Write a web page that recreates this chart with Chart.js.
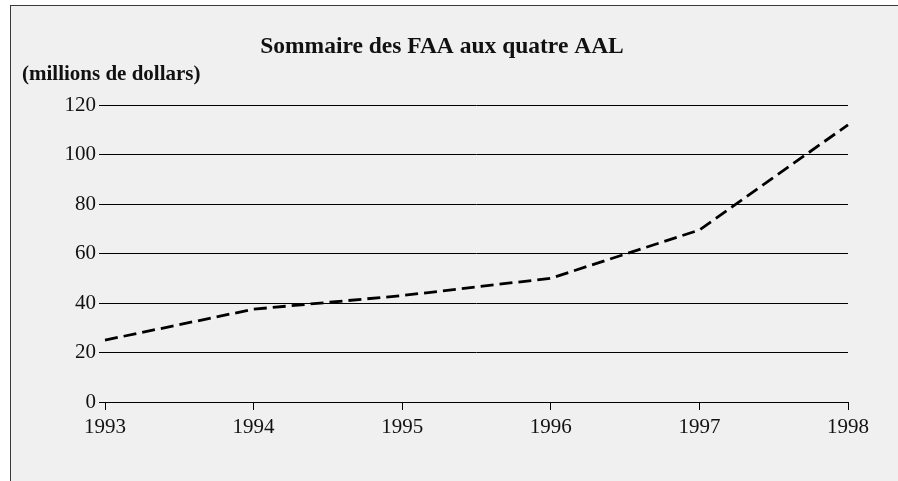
<!DOCTYPE html>
<html>
<head>
<meta charset="utf-8">
<script src="https://cdn.jsdelivr.net/npm/chart.js@4"></script>
<style>
  body { margin: 0; background: #ffffff; }
  #frame {
    position: absolute; left: 10px; top: 5px;
    width: 887px; height: 475px;
    background: #f0f0f0;
    border-left: 1px solid #3a3a3a;
    border-top: 1px solid #3a3a3a;
  }
  #chartBox { width: 887px; height: 475px; }
</style>
</head>
<body>
<div id="frame"><div id="chartBox"><canvas id="lineChart"></canvas></div></div>
<script>
const YEARS = ["1993", "1994", "1995", "1996", "1997", "1998"]
const FAA_VALUES = [25, 37.5, 43, 50, 69.5, 112]
const CHART_TITLE = "Sommaire des FAA aux quatre AAL"
const Y_LABEL = "(millions de dollars)"

const serif = "'Liberation Serif', 'Times New Roman', serif"

// draws the title and the unit label at the top left
const headerText = {
    id: "headerText",
    afterDraw(chart) {
        const ctx = chart.ctx
        ctx.save()
        ctx.fillStyle = "#111"
        ctx.textBaseline = "middle"
        ctx.font = "bold 23.5px " + serif
        ctx.textAlign = "center"
        ctx.fillText(CHART_TITLE, 431, 41)
        ctx.font = "bold 21px " + serif
        ctx.textAlign = "left"
        ctx.fillText(Y_LABEL, 11, 69)
        ctx.restore()
    }
}

const ctx = document.getElementById("lineChart").getContext("2d")
const myLine = new Chart(ctx, {
    type: "line",
    data: {
        labels: YEARS,
        datasets: [{
            data: FAA_VALUES,
            borderColor: "#000",
            borderWidth: 2.8,
            borderDash: [13, 6],
            fill: false,
            tension: 0,
            pointRadius: 0
        }]
    },
    options: {
        responsive: true,
        maintainAspectRatio: false,
        animation: false,
        layout: { padding: { top: 99, right: 50, left: 0, bottom: 0 } },
        plugins: {
            legend: { display: false },
            tooltip: { enabled: false }
        },
        scales: {
            x: {
                offset: false,
                grid: { drawOnChartArea: false, drawTicks: true, tickLength: 8, color: "#000" },
                border: { display: true, color: "#000", width: 1 },
                ticks: { color: "#111", font: { family: serif, size: 21 }, padding: 5, maxRotation: 0 },
                afterFit(scale) { scale.height = 79 }
            },
            y: {
                min: 0,
                max: 120,
                ticks: { stepSize: 20, color: "#111", font: { family: serif, size: 21 }, padding: 3 },
                grid: { color: "#000", lineWidth: 1, tickLength: 6, drawTicks: true },
                border: { display: false },
                afterFit(scale) { scale.width = 94 }
            }
        }
    },
    plugins: [headerText]
})
</script>
</body>
</html>
